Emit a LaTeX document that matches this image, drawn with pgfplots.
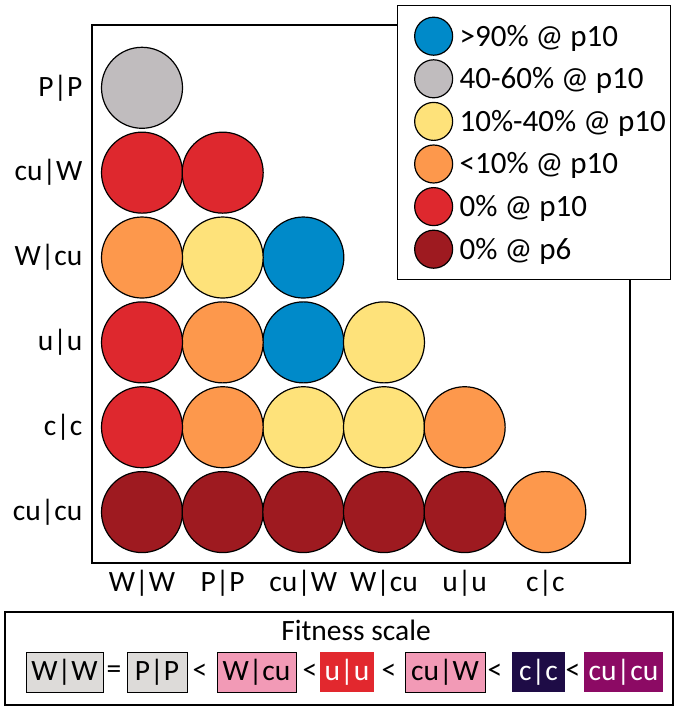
\documentclass[border=0pt]{standalone}
\usepackage{fontspec}
\setmainfont{Carlito}
\usepackage{pgfplots}
\pgfplotsset{compat=1.18}

\definecolor{cblue}{RGB}{0,138,201}
\definecolor{cgray}{RGB}{192,188,190}
\definecolor{cyellow}{RGB}{254,226,122}
\definecolor{corange}{RGB}{253,152,76}
\definecolor{cred}{RGB}{222,40,46}
\definecolor{cdkred}{RGB}{158,26,32}
\definecolor{fgray}{RGB}{221,219,217}
\definecolor{fpink}{RGB}{242,154,182}
\definecolor{fred}{RGB}{226,40,46}
\definecolor{fnavy}{RGB}{30,12,70}
\definecolor{fpurple}{RGB}{140,10,100}

\newcommand{\lbl}{\fontsize{29.5}{34}\selectfont}

\begin{document}
\begin{tikzpicture}[x=1pt,y=1pt]
\path (0,0) rectangle (680,-712);

\begin{axis}[
  at={(92pt,-25pt)}, anchor=north west,
  scale only axis,
  width=538pt, height=538pt,
  xmin=0.38, xmax=7.05,
  ymin=0.40, ymax=6.74,
  xtick={1,2,3,4,5,6},
  ytick={1,2,3,4,5,6},
  xticklabels={W|W,P|P,cu|W,W|cu,u|u,c|c},
  yticklabels={cu|cu,c|c,u|u,W|cu,cu|W,P|P},
  major tick length=0pt,
  tick label style={font=\lbl},
  xticklabel style={yshift=-4pt},
  yticklabel style={xshift=-6pt},
  axis line style={line width=1.2pt},
  only marks,
  clip=false,
  every axis plot/.append style={mark=*, mark size=40.5pt, draw=black, line width=1.2pt},
  legend image code/.code={%
    \path[draw=none, fill=none] (-32pt,0pt) -- (25pt,0pt);
    \draw[#1, mark size=19pt] plot coordinates {(0pt,0pt)};},
  legend cell align=left,
  legend style={
    at={(rel axis cs:0.567,1.037)}, anchor=north west,
    draw=black, line width=1.2pt, fill=white,
    font=\fontsize{31}{36}\selectfont,
    inner xsep=4pt, inner ysep=11.5pt,
    row sep=4.6pt,
    column sep=0pt,
    nodes={inner sep=1pt},
  },
]

% >90% @ p10
\addplot[fill=cblue] coordinates {(3,4) (3,3)};
% 40-60% @ p10
\addplot[fill=cgray] coordinates {(1,6)};
% 10%-40% @ p10
\addplot[fill=cyellow] coordinates {(2,4) (4,3) (3,2) (4,2)};
% <10% @ p10
\addplot[fill=corange] coordinates {(1,4) (2,3) (2,2) (5,2) (6,1)};
% 0% @ p10
\addplot[fill=cred] coordinates {(1,5) (2,5) (1,3) (1,2)};
% 0% @ p6
\addplot[fill=cdkred] coordinates {(1,1) (2,1) (3,1) (4,1) (5,1)};

\legend{>90\% @ p10, 40-60\% @ p10, 10\%-40\% @ p10, <10\% @ p10, 0\% @ p10, 0\% @ p6}
\end{axis}

% fitness scale box
\draw[line width=1.2pt] (5,-612) rectangle (673,-705);
\node[font=\lbl] at (356,-630) {Fitness scale};
\tikzset{fb/.style={line width=0.8pt, minimum height=40pt, inner sep=0pt, font=\lbl}}
\node[fb, draw=black, fill=fgray, minimum width=77pt] at (64.5,-672) {W|W};
\node[font=\lbl] at (114,-672) {=};
\node[fb, draw=black, fill=fgray, minimum width=60pt] at (157,-672) {P|P};
\node[font=\lbl] at (200,-672) {<};
\node[fb, draw=black, fill=fpink, minimum width=79pt] at (256.5,-672) {W|cu};
\node[font=\lbl] at (310,-672) {<};
\node[fb, fill=fred, text=white, minimum width=54pt] at (347,-672) {u|u};
\node[font=\lbl] at (389,-672) {<};
\node[fb, draw=black, fill=fpink, minimum width=80pt] at (445,-672) {cu|W};
\node[font=\lbl] at (495,-672) {<};
\node[fb, fill=fnavy, text=white, minimum width=53pt] at (538.5,-672) {c|c};
\node[font=\lbl] at (573,-672) {<};
\node[fb, fill=fpurple, text=white, minimum width=79pt] at (623.5,-672) {cu|cu};
\end{tikzpicture}
\end{document}
